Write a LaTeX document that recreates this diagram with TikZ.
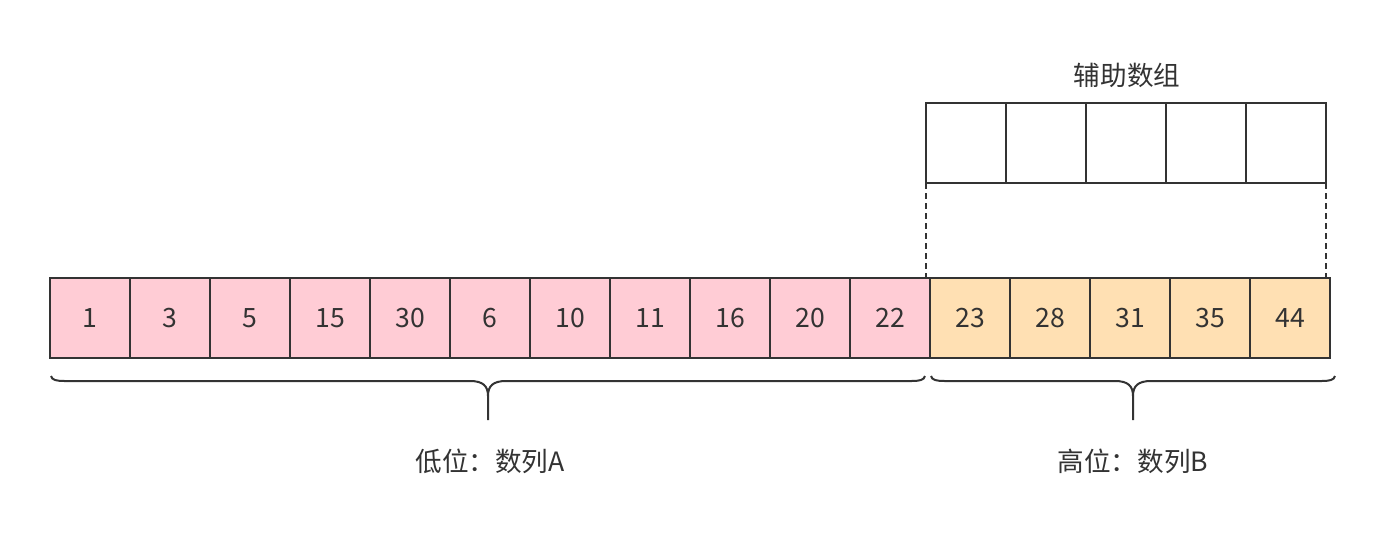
\documentclass[tikz,border=0pt]{standalone}
\usepackage{fontspec}
\setmainfont{Noto Sans CJK SC}
\usetikzlibrary{positioning}
\definecolor{lowfill}{HTML}{FFCCD5}
\definecolor{highfill}{HTML}{FFE0B3}
\definecolor{edge}{HTML}{333333}
\tikzset{
  cell/.style={draw=edge,line width=1pt,minimum size=40pt,inner sep=0pt,outer sep=0pt,text=edge,font=\fontsize{13.3}{16}\selectfont},
  caption/.style={text=edge,font=\fontsize{13.3}{16}\selectfont},
  brace/.style={draw=edge,line width=1pt}
}
\begin{document}
\begin{tikzpicture}[x=0.5pt,y=-0.5pt]
\useasboundingbox (0,0) rectangle (1382,532);
% low part A and high part B
\foreach \v [count=\i from 0] in {1,3,5,15,30,6,10,11,16,20,22}
  \node[cell,fill=lowfill] (b\i) at ({90+80*\i},318) {\raisebox{-1.8pt}{\v}};
\foreach \v [count=\i from 11] in {23,28,31,35,44}
  \node[cell,fill=highfill] (b\i) at ({90+80*\i},318) {\raisebox{-1.8pt}{\v}};
% helper array
\foreach \i in {0,...,4}
  \node[cell] (t\i) at ({966+80*\i},143) {};
\node[caption] (helper) at (1127,75) {辅助数组};
\draw[brace,dash pattern=on 3pt off 2pt] (t0.south west) -- (t0.south west |- b11.north);
\draw[brace,dash pattern=on 3pt off 2pt] (t4.south east) -- (t4.south east |- b15.north);
% braces
\foreach \xa/\xb in {51/925,931/1335}{
  \pgfmathsetmacro\xm{(\xa+\xb)/2}
  \draw[brace] (\xa,376) .. controls ({\xa+1},380) and ({\xa+5},381) .. ({\xa+14},381)
    -- ({\xm-18},381) .. controls ({\xm-5},381) and (\xm,386) .. (\xm,396) -- (\xm,420);
  \draw[brace] (\xb,376) .. controls ({\xb-1},380) and ({\xb-5},381) .. ({\xb-14},381)
    -- ({\xm+18},381) .. controls ({\xm+5},381) and (\xm,386) .. (\xm,396);
}
\node[caption] (lowtext) at (490,461) {低位：数列A};
\node[caption] (hightext) at (1133,461) {高位：数列B};
\end{tikzpicture}
\end{document}
